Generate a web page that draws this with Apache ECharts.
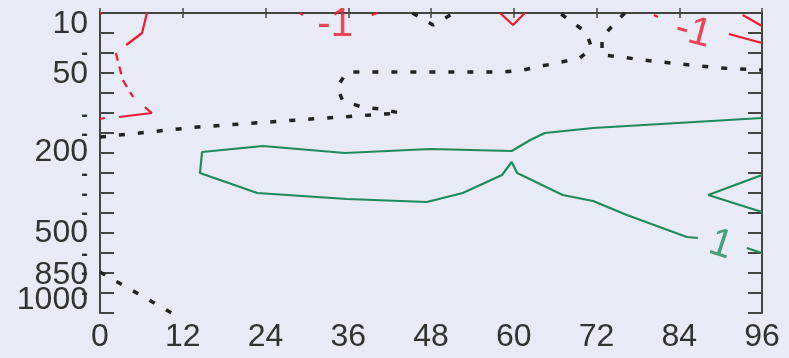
<!DOCTYPE html>
<html>
<head>
<meta charset="utf-8">
<title>contour</title>
<script src="https://cdn.jsdelivr.net/npm/echarts@6.0.0/dist/echarts.min.js"></script>
<style>
  html, body { margin: 0; padding: 0; background: #e8eaf6; }
  #main { width: 789px; height: 358px; }
</style>
</head>
<body>
<div id="main"></div>
<script>
// x: hours 0..96, y: level index 0 (top) .. 15 (bottom)
var xTicks = [0, 12, 24, 36, 48, 60, 72, 84, 96];
var levelPos = [0.55, 3.05, 6.95, 11, 13.1, 14.35];
var levelText = ['10', '50', '200', '500', '850', '1000'];
var dashPos = [2, 5.1, 6.05, 8.05, 9.05, 10, 12.05, 13, 14];

// -1 contour (red), solid pieces
var negSolid = [
  [[0, 0], [0.3, 0.05]],
  [[6.8, 0], [6.1, 1.0], [3.8, 1.6]],
  [[6.5, 4.7], [7.5, 5.0], [2.75, 5.2]],
  [[0.7, 5.25], [0, 5.3]],
  [[29.0, 0], [29.4, 0.1]],
  [[39.4, 0.1], [40.2, 0]],
  [[58.0, 0], [59.9, 0.6], [61.6, 0]],
  [[80.3, 0.1], [80.9, 0.2]],
  [[93.2, 0.1], [96, 0.65]],
  [[91.2, 1.05], [96, 1.5]]
];
// -1 contour, dashed piece
var negDashed = [
  [[2.3, 2.0], [3.3, 3.35], [4.8, 4.2]]
];
// 0 contour (black dotted)
var zeroLines = [
  [[0, 6.2], [14.2, 5.7], [28.6, 5.35], [43.5, 5.0], [40.6, 4.8], [38.0, 4.7],
   [35.2, 4.4], [34.4, 3.7], [35.8, 2.95], [58.4, 2.95], [61.3, 2.85],
   [64.1, 2.65], [66.9, 2.45], [69.6, 2.25], [71.3, 1.75], [70.5, 0.95],
   [68.2, 0.4], [66.7, 0]],
  [[76.1, 0], [74.7, 0.5], [72.8, 1.2], [72.8, 2.1], [75.7, 2.2], [78.6, 2.35],
   [81.5, 2.45], [84.1, 2.55], [87.0, 2.65], [89.9, 2.75], [92.7, 2.8], [96, 2.85]],
  [[45.3, 0], [48.3, 0.6], [51.3, 0]],
  [[0, 12.95], [10.4, 15]]
];
// +1 contour (green)
var posLines = [
  [[96, 5.25], [71.5, 5.75], [64.5, 6.0], [62.4, 6.35], [59.7, 6.9], [47.9, 6.8],
   [35.5, 7.0], [23.6, 6.65], [14.8, 6.95], [14.5, 8.0], [22.8, 9.0], [35.8, 9.3],
   [47.4, 9.45], [52.6, 9.0], [58.3, 8.1], [59.7, 7.45], [60.5, 8.0], [67.1, 9.1],
   [71.5, 9.4], [76.4, 10.1], [85.1, 11.2], [86.7, 11.25]],
  [[93.8, 11.75], [96, 12.0]],
  [[96, 8.1], [88.2, 9.1], [96, 9.95]]
];
// contour labels: x, y, text, rotation
var negLabels = [[34.1, 0.6, '-1', 0], [86.0, 0.95, '-1', -15]];
var posLabels = [[90.0, 11.6, '1', -18]];

var RED = '#f01a30', GREEN = '#1f8a5c', BLACK = '#222222', AXIS = '#444444', TXT = '#333333';
var FONT = "'Liberation Sans', Arial, sans-serif";

function lineSeries(pts, color, width, type) {
  return {
    type: 'line', data: pts, symbol: 'none', silent: true, animation: false,
    lineStyle: { color: color, width: width, type: type, cap: 'butt' }, z: 3
  };
}
function labelSeries(items, color) {
  return {
    type: 'scatter', symbolSize: 1, silent: true, animation: false,
    itemStyle: { color: 'transparent' }, z: 4,
    data: items.map(function (d) { return { value: [d[0], d[1]], name: d[2],
      label: { rotate: d[3] } }; }),
    label: { show: true, position: 'inside', formatter: '{b}', color: color,
      fontSize: 40, fontFamily: FONT }
  };
}

var series = [];
negSolid.forEach(function (p) { series.push(lineSeries(p, RED, 2.2, 'solid')); });
negDashed.forEach(function (p) { series.push(lineSeries(p, RED, 2.2, [8, 6])); });
zeroLines.forEach(function (p) { series.push(lineSeries(p, BLACK, 3.5, [6, 13])); });
posLines.forEach(function (p) { series.push(lineSeries(p, GREEN, 2.2, 'solid')); });
series.push(labelSeries(negLabels, RED));
series.push(labelSeries(posLabels, GREEN));

// split level labels over two axes so neighbours do not hide each other
var levelMap = {};
levelPos.forEach(function (v, i) { levelMap[v] = levelText[i]; });
var posA = levelPos.filter(function (v, i) { return i % 2 === 0; });
var posB = levelPos.filter(function (v, i) { return i % 2 === 1; });

var axisLine = { show: true, lineStyle: { color: AXIS, width: 2 } };
var yBase = { type: 'value', min: 0, max: 15, interval: 1, inverse: true, splitLine: { show: false } };
var lblStyle = { color: TXT, fontSize: 32, fontFamily: FONT, margin: 12, hideOverlap: false };

function labelAxis(vals) {
  return Object.assign({}, yBase, { position: 'left', axisLine: { show: false },
    axisTick: { show: false },
    axisLabel: Object.assign({}, lblStyle, { customValues: vals,
      formatter: function (v) { return levelMap[v] || ''; } }) });
}

var myChart = echarts.init(document.getElementById('main'));
myChart.setOption({
  backgroundColor: '#e8eaf6',
  animation: false,
  grid: { left: 100, right: 27, top: 13, bottom: 45 },
  xAxis: [
    { type: 'value', position: 'bottom', min: 0, max: 96, interval: 12,
      axisLine: axisLine, splitLine: { show: false },
      axisTick: { inside: true, length: 5, lineStyle: { color: AXIS, width: 1.5 } },
      axisLabel: { color: TXT, fontSize: 32, fontFamily: FONT, margin: 8,
        hideOverlap: false, customValues: xTicks } },
    { type: 'value', position: 'top', min: 0, max: 96, interval: 12,
      axisLine: axisLine, splitLine: { show: false },
      axisTick: { inside: true, length: 5, lineStyle: { color: AXIS, width: 1.5 } },
      axisLabel: { show: false } }
  ],
  yAxis: [
    Object.assign({}, yBase, { position: 'left', axisLine: axisLine,
      axisTick: { inside: true, length: 14, lineStyle: { color: AXIS, width: 2 } },
      axisLabel: { show: false } }),
    labelAxis(posA),
    labelAxis(posB),
    Object.assign({}, yBase, { position: 'left', axisLine: { show: false },
      axisTick: { show: false },
      axisLabel: { color: TXT, fontSize: 20, fontWeight: 'bold', fontFamily: FONT, margin: 12,
        hideOverlap: false, customValues: dashPos, formatter: function () { return '-'; } } }),
    Object.assign({}, yBase, { position: 'right', axisLine: axisLine,
      axisTick: { inside: true, length: 14, lineStyle: { color: AXIS, width: 2 } },
      axisLabel: { show: false } })
  ],
  series: series
});
</script>
</body>
</html>
